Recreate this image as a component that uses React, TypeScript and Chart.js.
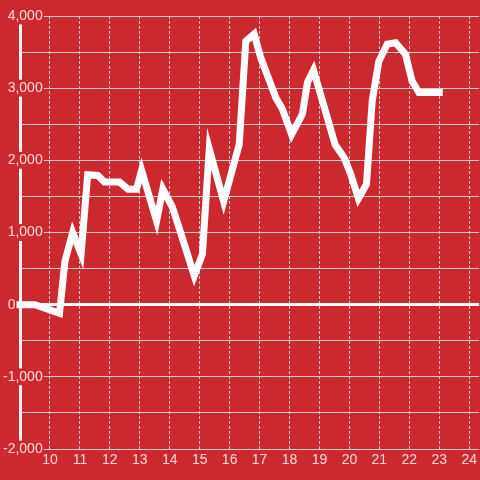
import { useEffect, useRef } from 'react';
import { Chart, registerables } from 'chart.js';

Chart.register(...registerables);

const hours = [9, 9.5, 10.32, 10.5, 10.76, 11.04, 11.26, 11.6, 11.82, 12.32, 12.61, 12.89, 13.06, 13.56, 13.77, 14.09, 14.4, 14.82, 15.09, 15.32, 15.8, 16.32, 16.54, 16.82, 17.04, 17.54, 17.76, 18.07, 18.43, 18.6, 18.8, 19.2, 19.52, 19.82, 20.04, 20.3, 20.57, 20.76, 20.98, 21.26, 21.54, 21.87, 22.09, 22.32, 23.0];
const values = [0, 0, -120, 600, 1000, 700, 1800, 1790, 1700, 1700, 1600, 1600, 1860, 1160, 1600, 1350, 950, 400, 700, 2160, 1430, 2220, 3650, 3750, 3420, 2870, 2710, 2360, 2640, 3080, 3250, 2680, 2220, 2040, 1810, 1470, 1670, 2820, 3370, 3610, 3630, 3470, 3100, 2940, 2940];
const xTickHours = [10, 11, 12, 13, 14, 15, 16, 17, 18, 19, 20, 21, 22, 23, 24];

const RED = '#cc292e';
const LABEL = '#f6dcdc';
const GRID = '#cfcfcf';
const FONT = { family: '"Liberation Sans", Arial, sans-serif', size: 14 };

export default function App() {
  const ref = useRef<HTMLCanvasElement | null>(null);

  useEffect(() => {
    const canvas = ref.current;
    if (!canvas) return;
    const chart = new Chart(canvas, {
      type: 'line',
      data: {
        datasets: [
          {
            data: hours.map((h, i) => ({ x: h, y: values[i] })),
            borderColor: '#ffffff',
            borderWidth: 7,
            pointRadius: 0,
            pointHoverRadius: 0,
            tension: 0,
            fill: false,
            borderCapStyle: 'square',
            clip: false,
          },
        ],
      },
      options: {
        animation: false,
        responsive: false,
        devicePixelRatio: 1,
        events: [],
        layout: { padding: { top: 16, right: 0, bottom: 0, left: 0 } },
        plugins: { legend: { display: false }, tooltip: { enabled: false }, title: { display: false } },
        scales: {
          x: {
            type: 'linear',
            min: 9,
            max: 24.3334,
            afterBuildTicks: (s: any) => {
              s.ticks = xTickHours.map((v) => ({ value: v }));
            },
            afterFit: (s: any) => {
              s.height = 31;
            },
            ticks: {
              z: 1,
              stepSize: 1,
              includeBounds: false,
              autoSkip: false,
              maxRotation: 0,
              padding: 3,
              color: LABEL,
              font: FONT,
              callback: (v: any) => String(v),
            },
            grid: { drawTicks: false, color: GRID, lineWidth: 1 },
            border: { display: false, dash: [3, 2] },
          },
          y: {
            type: 'linear',
            min: -2000,
            max: 4000,
            afterFit: (s: any) => {
              s.width = 20;
            },
            ticks: {
              mirror: true,
              crossAlign: 'far',
              stepSize: 500,
              padding: -17,
              color: LABEL,
              font: FONT,
              autoSkip: false,
              showLabelBackdrop: true,
              backdropPadding: { top: 0, bottom: 0, left: 2, right: 1 },
              backdropColor: (ctx: any) =>
                ctx.tick && ctx.tick.value !== 0 && ctx.tick.value % 1000 === 0 ? RED : 'rgba(0,0,0,0)',
              callback: (v: any) => {
                const n = Number(v);
                if (n === 0) return '0' + ' '.repeat(7);
                return n % 1000 === 0 ? n.toLocaleString('en-US') : '';
              },
            },
            grid: {
              drawTicks: false,
              color: (ctx: any) => (ctx.tick && ctx.tick.value === 0 ? '#ffffff' : GRID),
              lineWidth: (ctx: any) => (ctx.tick && ctx.tick.value === 0 ? 3 : 1),
            },
            border: { display: true, color: '#f4f4f4', width: 3 },
          },
        },
      },
    } as any);
    return () => chart.destroy();
  }, []);

  return (
    <div style={{ position: 'fixed', left: 0, top: 0, width: 480, height: 480, background: RED }}>
      <canvas ref={ref} width={480} height={480} style={{ display: 'block', width: 480, height: 480 }} />
    </div>
  );
}
